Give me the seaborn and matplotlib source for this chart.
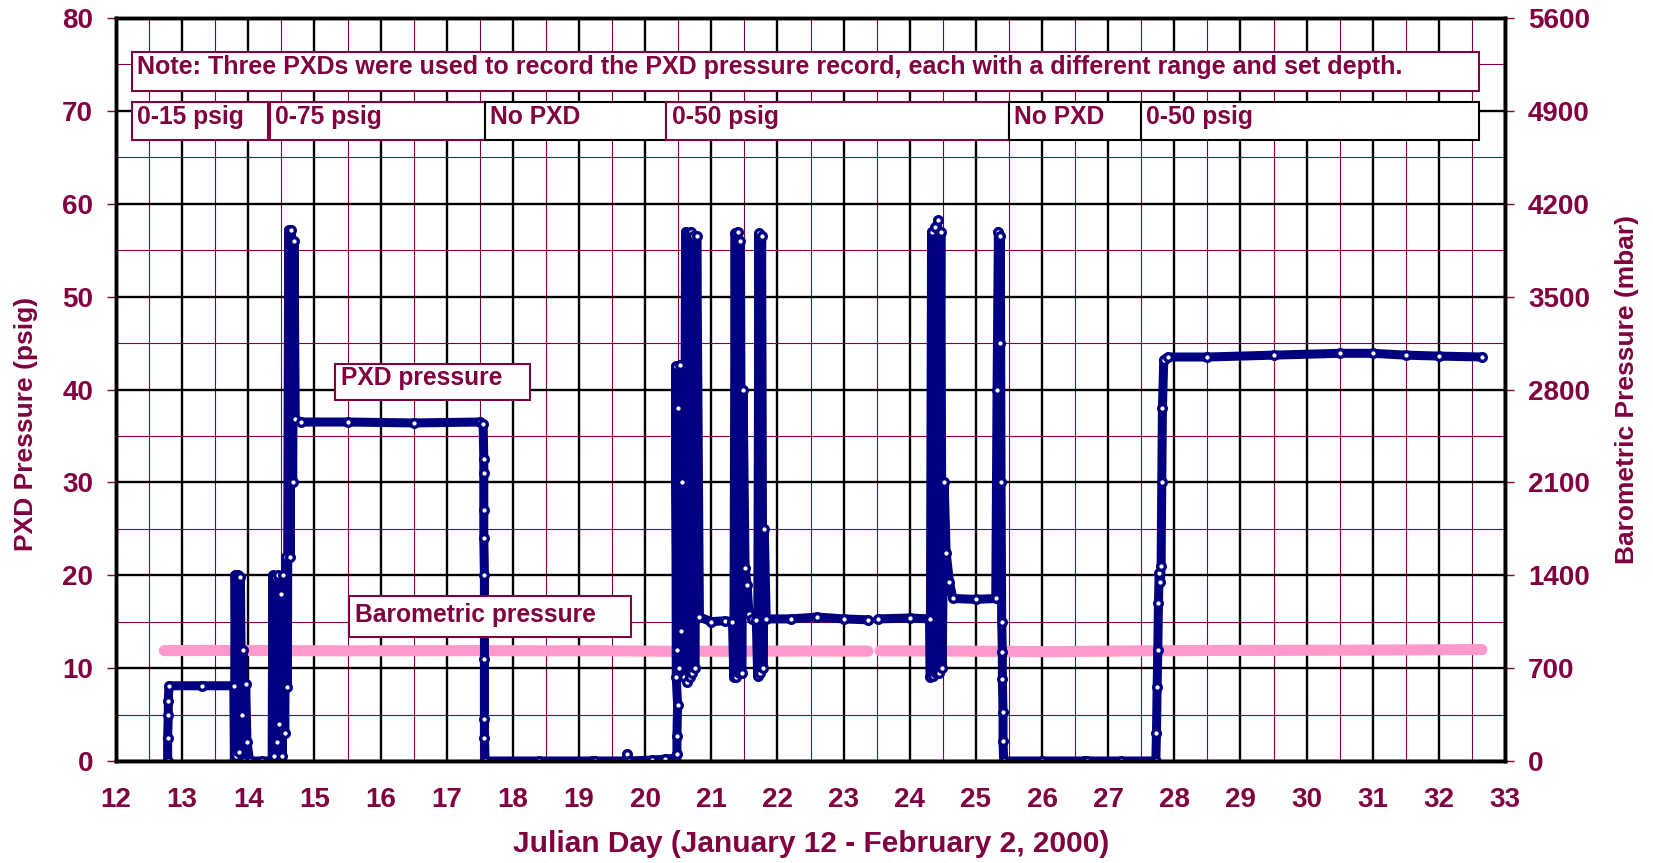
import numpy as np
import pandas as pd
import matplotlib
matplotlib.use("Agg")
import matplotlib.pyplot as plt
from matplotlib.patches import Rectangle
from matplotlib.ticker import MultipleLocator
import seaborn as sns

# ------------------------------------------------------------------ data
pxd_a_day = [12.78, 12.78, 12.79, 12.79, 12.80, 13.30, 13.78, 13.79, 13.80, 13.82, 13.84,
             13.86, 13.88, 13.90, 13.92, 13.94, 13.96, 13.98, 14.02, 14.20, 14.36]
pxd_a_psig = [0, 2.5, 5, 6.5, 8.1, 8.1, 8.1, 0, 20, 0.5, 20,
              1, 19.8, 5, 12, 0, 8.3, 2, 0, 0, 0]

pxd_b_day = [14.36, 14.37, 14.39, 14.41, 14.43, 14.45, 14.47, 14.49, 14.51, 14.53, 14.55,
             14.57, 14.59, 14.61, 14.63, 14.65, 14.67, 14.69, 14.71, 14.80, 15.50, 16.50,
             17.50, 17.55, 17.56, 17.56, 17.56, 17.56, 17.57, 17.57, 17.57, 17.57, 17.58,
             17.58, 18.40, 19.20]
pxd_b_psig = [0, 20, 0.5, 19.8, 2, 20, 4, 18, 0.5, 20, 3,
              22, 8, 57.2, 22, 57.2, 30, 56, 36.8, 36.5, 36.5, 36.4,
              36.5, 36.3, 32.5, 31, 27, 24, 20, 11, 4.5, 2.5, 0,
              0, 0, 0]

pxd_c_day = [19.24, 19.70, 19.73, 19.76, 20.10, 20.30, 20.45]
pxd_c_psig = [0, 0, 0.8, 0, 0.1, 0.2, 0.3]

pxd_d_day = [20.47, 20.48, 20.48, 20.49, 20.47, 20.46, 20.48, 20.50, 20.51, 20.52, 20.54,
             20.56, 20.59, 20.61, 20.63, 20.65, 20.67, 20.69, 20.71, 20.73, 20.75, 20.78,
             20.82, 21.00, 21.20, 21.32, 21.34, 21.36, 21.38, 21.40, 21.42, 21.44, 21.46,
             21.48, 21.51, 21.54, 21.57, 21.62, 21.68, 21.70, 21.72, 21.74, 21.76, 21.78,
             21.80, 21.83, 22.20, 22.60, 23.00, 23.37]
pxd_d_psig = [0, 0.8, 2.7, 6, 9, 42.5, 12, 38, 10, 42.6, 14,
              30, 9, 57, 8.5, 56.8, 9, 57, 9.5, 56.5, 10, 56.5,
              15.5, 15.0, 15.1, 15.0, 9, 56.8, 9, 57, 9.5, 56, 9.5,
              40, 20.8, 19, 15.8, 15.3, 15.2, 9.2, 56.8, 9.5, 56.5, 10,
              25, 15.3, 15.3, 15.5, 15.3, 15.2]

pxd_e_day = [23.52, 24.00, 24.30, 24.31, 24.33, 24.35, 24.38, 24.40, 24.42, 24.44, 24.47,
             24.49, 24.52, 24.55, 24.60, 24.65, 25.00, 25.30, 25.32, 25.34, 25.36, 25.37,
             25.38, 25.39, 25.40, 25.40, 25.41, 25.41, 25.42, 26.00, 26.64]
pxd_e_psig = [15.3, 15.4, 15.3, 9.0, 57, 9.2, 57.5, 9.5, 58.2, 9.5, 57,
              10, 30, 22.4, 19.3, 17.5, 17.4, 17.5, 40, 57, 45, 56.5,
              30, 15, 11.7, 8.8, 5.3, 2.1, 0, 0, 0]

pxd_f_day = [26.68, 27.20, 27.72, 27.73, 27.74, 27.75, 27.76, 27.77, 27.79, 27.80, 27.81,
             27.82, 27.84, 27.90, 28.50, 29.50, 30.50, 31.00, 31.50, 32.00, 32.65]
pxd_f_psig = [0, 0, 0, 3, 8, 12, 17, 20.2, 19.3, 21, 30,
              38, 43.2, 43.5, 43.5, 43.7, 43.9, 43.9, 43.7, 43.6, 43.5]

# Barometric pressure (mbar), two runs separated by the data gap near day 23.4
baro_a_day = [12.73, 13.50, 14.50, 15.50, 16.50, 17.50, 18.50, 19.20, 19.75, 20.50,
              21.50, 22.50, 23.37]
baro_a_mbar = [832, 833, 832, 830, 831, 832, 830, 831, 829, 827,
               828, 829, 828]
baro_b_day = [23.55, 24.50, 25.50, 26.20, 26.65, 27.50, 28.50, 29.50, 30.50, 31.50, 32.65]
baro_b_mbar = [830, 829, 826, 824, 827, 830, 833, 834, 835, 837, 840]

# Text annotations
note_text = ("Note: Three PXDs were used to record the PXD pressure record, "
             "each with a different range and set depth.")
range_labels = ["0-15 psig", "0-75 psig", "No PXD", "0-50 psig", "No PXD", "0-50 psig"]
range_starts = [12.24, 14.33, 17.58, 20.32, 25.50, 27.49]
range_ends = [14.29, 17.58, 20.32, 25.50, 27.49, 32.61]
range_edge = ["maroon", "maroon", "black", "maroon", "black", "black"]

# ------------------------------------------------------------------ tables
pxd_runs = [(pxd_a_day, pxd_a_psig), (pxd_b_day, pxd_b_psig), (pxd_c_day, pxd_c_psig),
            (pxd_d_day, pxd_d_psig), (pxd_e_day, pxd_e_psig), (pxd_f_day, pxd_f_psig)]
pxd_df = pd.concat([pd.DataFrame({"day": d, "psig": p, "run": i})
                    for i, (d, p) in enumerate(pxd_runs)], ignore_index=True)
baro_runs = [(baro_a_day, baro_a_mbar), (baro_b_day, baro_b_mbar)]
baro_df = pd.concat([pd.DataFrame({"day": d, "mbar": m, "run": i})
                     for i, (d, m) in enumerate(baro_runs)], ignore_index=True)

# ------------------------------------------------------------------ style
sns.set_style("white")
plt.rcParams["font.family"] = ["Liberation Sans", "DejaVu Sans"]
plt.rcParams["font.weight"] = "bold"
plt.rcParams["axes.labelweight"] = "bold"

MAROON = "#800040"
NAVY = "#000080"
PINK = "#FF99CC"

fig = plt.figure(figsize=(16.53, 8.63), dpi=100)
ax = fig.add_axes([0.0702, 0.1182, 0.8403, 0.8609])
ax2 = ax.twinx()

# bottom layer (ax2): grid + barometric line
ax2.set_zorder(0)
ax.set_zorder(1)
ax.patch.set_visible(False)

sns.lineplot(data=baro_df, x="day", y="mbar", units="run", estimator=None, sort=False,
             ax=ax2, color=PINK, lw=8, legend=False,
             solid_capstyle="round", solid_joinstyle="round")

sns.lineplot(data=pxd_df, x="day", y="psig", units="run", estimator=None, sort=False,
             ax=ax, color=NAVY, lw=6.5, legend=False, marker="o", markersize=5.5,
             markerfacecolor="white", markeredgecolor=NAVY, markeredgewidth=2.4,
             solid_capstyle="round", solid_joinstyle="round")

ax.set_xlim(12, 33)
ax.set_ylim(0, 80)
ax2.set_ylim(0, 5600)
ax.set_xticks(range(12, 34))
ax.set_yticks(range(0, 81, 10))
ax2.set_yticks(range(0, 5601, 700))
ax.xaxis.set_minor_locator(MultipleLocator(0.5))
ax2.yaxis.set_minor_locator(MultipleLocator(350))

ax2.xaxis.set_visible(True)
ax2.set_xlabel("")
ax2.tick_params(axis="x", which="both", bottom=False, top=False,
                labelbottom=False, labeltop=False)
ax2.set_axisbelow(True)
ax2.grid(True, which="minor", color=MAROON, lw=0.8)
ax2.grid(True, which="major", color="black", lw=1.7)
ax.grid(False)

ax.tick_params(axis="both", which="major", direction="out", length=6.5, width=1.0,
               color=MAROON, labelcolor=MAROON, labelsize=20)
ax.tick_params(axis="y", pad=10)
ax.tick_params(axis="x", pad=12)
ax.tick_params(which="minor", length=0)
ax2.tick_params(axis="y", which="major", direction="out", length=6.5, width=1.0,
                color=MAROON, labelcolor=MAROON, labelsize=20, pad=10)
ax2.tick_params(axis="y", which="minor", length=0)

for a in (ax, ax2):
    for s in a.spines.values():
        s.set_color("black")
        s.set_linewidth(2.5)

ax.set_xlabel("Julian Day (January 12 - February 2, 2000)", fontsize=21.5, color=MAROON,
              va="center", fontweight="bold")
ax.xaxis.set_label_coords(0.5004, -0.1117)
ax.set_ylabel("PXD Pressure (psig)", fontsize=19, color=MAROON, va="center",
              fontweight="bold")
ax.yaxis.set_label_coords(-0.0648, 0.454)
ax2.set_ylabel("Barometric Pressure (mbar)", fontsize=19, color=MAROON, va="center",
               rotation=90, fontweight="bold")
ax2.yaxis.set_label_coords(1.0878, 0.5)

# ------------------------------------------------------------------ annotation boxes
def box(x0, x1, y0, y1, edge):
    ax.add_patch(Rectangle((x0, y0), x1 - x0, y1 - y0, facecolor="white",
                           edgecolor=edge, lw=1.5, zorder=5, clip_on=False))

box(12.24, 32.61, 72.16, 76.35, MAROON)
ax.text(12.31, 74.0, note_text, fontsize=18, color=MAROON, va="baseline", ha="left",
        zorder=6, fontweight="bold")
for lab, x0, x1, ec in zip(range_labels, range_starts, range_ends, range_edge):
    box(x0, x1, 66.92, 70.97, MAROON if ec == "maroon" else "black")
    ax.text(x0 + 0.08, 68.6, lab, fontsize=17.7, color=MAROON, va="baseline",
            ha="left", zorder=6, fontweight="bold")

box(15.31, 18.26, 38.86, 42.8, MAROON)
ax.text(15.40, 40.47, "PXD pressure", fontsize=17.7, color=MAROON, va="baseline",
        zorder=6, fontweight="bold")
box(15.52, 19.78, 13.38, 17.8, MAROON)
ax.text(15.62, 14.96, "Barometric pressure", fontsize=17.7, color=MAROON,
        va="baseline", zorder=6, fontweight="bold")

fig.savefig("out.png", dpi=100)
